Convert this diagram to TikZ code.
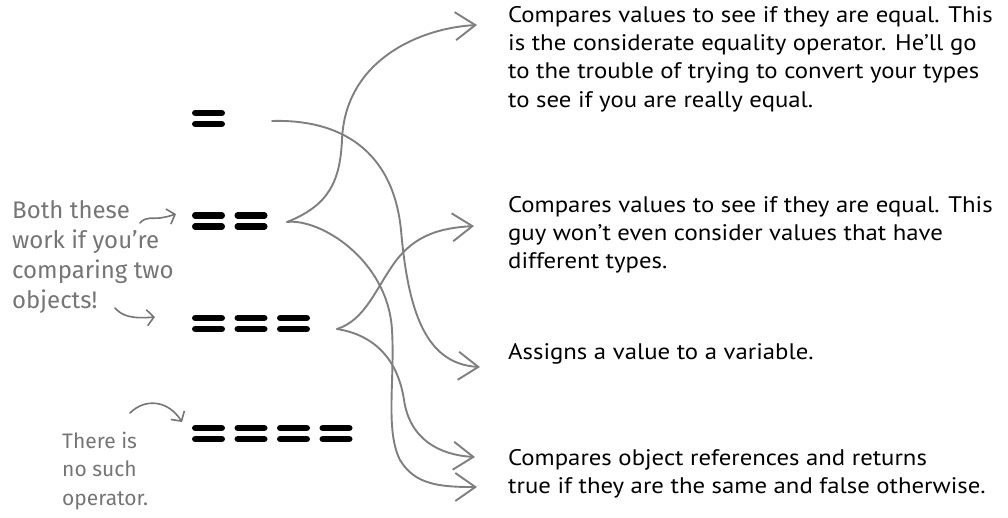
\documentclass[tikz,border=0pt]{standalone}
\usepackage{fontspec}
\setmainfont[FakeStretch=1.1]{PT Sans}
\newfontfamily\handfont{Fira Sans}
\usetikzlibrary{arrows.meta}
\definecolor{linegray}{HTML}{7F7F7F}
\definecolor{handgray}{HTML}{757575}
\tikzset{
  bar/.style={line width=6.5pt, line cap=round, black},
  eqsign/.pic={\draw[bar] (3.25,0)--(29.75,0); \draw[bar] (3.25,11)--(29.75,11);},
  opbox/.style={inner sep=0pt, minimum height=18pt, anchor=west},
  desc/.style={font=\fontsize{22.5}{28.4}\selectfont, align=left, inner sep=0pt, anchor=base west, text=black},
  hand/.style={font=\handfont\fontsize{24}{30}\selectfont, align=left, inner sep=0pt, anchor=base west, text=handgray},
  handsmall/.style={hand, font=\handfont\fontsize{21}{28.5}\selectfont},
  conn/.style={draw=linegray, line width=1.9pt, line cap=round, -{Straight Barb[length=20pt,width=28pt,line width=1.9pt]}},
  harrow/.style={draw=handgray, line width=1.6pt, line cap=round, -{Straight Barb[length=7pt,width=16pt]}}
}
\begin{document}
\begin{tikzpicture}[x=1pt,y=-1pt]
\useasboundingbox (0,0) rectangle (1008,517);

% operators
\node[opbox, minimum width=33pt] (op1) at (192,119) {};
\node[opbox, minimum width=76pt] (op2) at (192,221) {};
\node[opbox, minimum width=118pt] (op3) at (192,323.5) {};
\node[opbox, minimum width=161pt] (op4) at (192,433.5) {};
\pic at (192,113) {eqsign};
\foreach \x in {192,234.5} \pic at (\x,215.5) {eqsign};
\foreach \x in {192,234.5,277} \pic at (\x,318) {eqsign};
\foreach \x in {192,234.5,277,319.5} \pic at (\x,428) {eqsign};

% descriptions (anchor = baseline of the last line)
\node[desc] (t1) at (508,107.2) {Compares values to see if they are equal. This\\is the considerate equality operator. He’ll go\\to the trouble of trying to convert your types\\to see if you are really equal.};
\node[desc] (t2) at (508,268.8) {Compares values to see if they are equal. This\\guy won’t even consider values that have\\different types.};
\node[desc] (t3) at (508,359) {Assigns a value to a variable.};
\node[desc] (t4) at (508,493.4) {Compares object references and returns\\true if they are the same and false otherwise.};

% handwritten notes
\node[hand] (n1) at (12,308) {Both these\\work if you’re\\comparing two\\objects!};
\node[handsmall] (n2) at (62,505) {There is\\no such\\operator.};

% connector ends
\coordinate (s1) at (272,121);
\coordinate (s2) at (287,222);
\coordinate (s3) at (337,329);
\coordinate (e1) at (477,25);
\coordinate (e2) at (474,226);
\coordinate (e3) at (480,367);
\coordinate (e4a) at (475,457);
\coordinate (e4b) at (477,487);

\draw[conn] (s1) .. controls (340,119) and (393,150) .. (401,230) .. controls (408,310) and (425,364) .. (e3);
\draw[conn] (s2) .. controls (330,205) and (340,180) .. (342,140) .. controls (345,60) and (420,28) .. (e1);
\draw[conn] (s2) .. controls (320,218) and (388,260) .. (392,330) .. controls (395,380) and (385,430) .. (400,460) .. controls (415,485) and (440,487) .. (e4b);
\draw[conn] (s3) .. controls (365,320) and (375,290) .. (395,262) .. controls (415,235) and (440,228) .. (e2);
\draw[conn] (s3) .. controls (375,335) and (398,360) .. (404,400) .. controls (410,440) and (440,455) .. (e4a);

% handwritten arrows
\coordinate (h1s) at (140,223);
\coordinate (h1e) at (176,214);
\coordinate (h2s) at (115,308);
\coordinate (h2e) at (155,317);
\coordinate (h3s) at (130,413);
\coordinate (h3e) at (182,422);
\draw[harrow] (h1s) .. controls (146,216) and (153,219) .. (160,218) .. controls (166,217) and (170,216) .. (h1e);
\draw[harrow] (h2s) .. controls (122,316) and (132,319) .. (h2e);
\draw[harrow] (h3s) .. controls (145,398) and (168,400) .. (h3e);
\end{tikzpicture}
\end{document}
